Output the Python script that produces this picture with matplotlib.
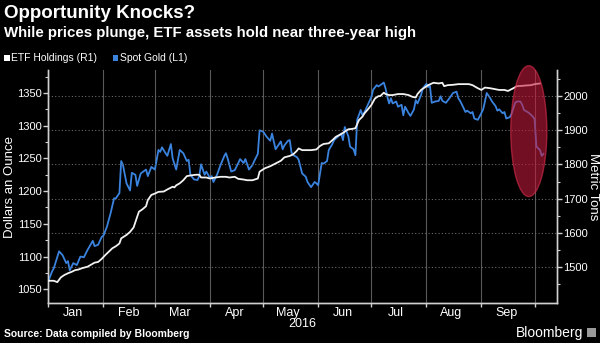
import matplotlib
matplotlib.use('Agg')
import matplotlib.pyplot as plt
import numpy as np
import pandas as pd
from matplotlib.patches import Ellipse, Rectangle

plt.rcParams['font.family'] = ['Liberation Sans', 'DejaVu Sans']

start = pd.Timestamp('2016-01-01')

# spot gold, days since Jan 1 2016 / dollars an ounce (left axis)
gold_day = [0, 2, 3, 6, 8, 10, 11, 12, 14, 16,
            18, 20, 22, 25, 26, 28, 30, 31, 33, 35,
            37, 38, 40, 41, 42, 44, 46, 47, 49, 50,
            52, 55, 56, 58, 60, 62, 63, 64, 66, 67,
            69, 70, 72, 74, 76, 78, 79, 80, 82, 84,
            85, 86, 88, 89, 91, 92, 93, 95, 97, 99,
            100, 101, 103, 105, 107, 108, 110, 111, 113, 115,
            116, 118, 119, 121, 123, 125, 126, 128, 129, 131,
            132, 133, 135, 136, 137, 138, 140, 141, 143, 145,
            146, 148, 150, 151, 152, 154, 155, 157, 158, 160,
            161, 163, 165, 166, 167, 169, 170, 172, 173, 174,
            176, 177, 178, 180, 182, 183, 185, 186, 188, 189,
            190, 191, 192, 193, 194, 196, 197, 199, 200, 201,
            203, 204, 206, 207, 208, 210, 211, 213, 214, 215,
            216, 218, 220, 221, 222, 224, 226, 228, 230, 231,
            232, 234, 235, 236, 238, 239, 240, 242, 243, 245,
            246, 247, 249, 250, 252, 253, 254, 256, 257, 258,
            260, 261, 263, 264, 266, 267, 268, 270, 271, 273,
            274, 275, 277, 278, 279]
gold_usd = [1063, 1077, 1082, 1108, 1102, 1090, 1093, 1079, 1090, 1087,
            1100, 1099, 1110, 1124, 1116, 1118, 1130, 1132, 1146, 1166,
            1189, 1189, 1197, 1246, 1240, 1212, 1201, 1228, 1225, 1208,
            1227, 1233, 1223, 1237, 1233, 1263, 1260, 1267, 1258, 1254,
            1272, 1250, 1233, 1263, 1258, 1246, 1248, 1225, 1218, 1217,
            1223, 1241, 1225, 1230, 1220, 1223, 1214, 1225, 1240, 1253,
            1258, 1250, 1230, 1232, 1243, 1249, 1243, 1249, 1233, 1240,
            1246, 1257, 1293, 1291, 1283, 1277, 1288, 1264, 1268, 1276,
            1264, 1270, 1277, 1278, 1259, 1255, 1252, 1248, 1227, 1222,
            1214, 1206, 1214, 1212, 1209, 1243, 1242, 1246, 1263, 1272,
            1278, 1283, 1288, 1278, 1298, 1284, 1268, 1264, 1255, 1309,
            1324, 1316, 1320, 1332, 1344, 1355, 1362, 1360, 1364, 1366,
            1357, 1344, 1334, 1342, 1334, 1337, 1329, 1332, 1316, 1329,
            1319, 1315, 1325, 1339, 1334, 1347, 1357, 1364, 1359, 1361,
            1335, 1337, 1338, 1345, 1338, 1335, 1342, 1350, 1352, 1342,
            1338, 1327, 1321, 1323, 1319, 1321, 1311, 1309, 1314, 1325,
            1337, 1350, 1342, 1337, 1330, 1323, 1325, 1319, 1321, 1311,
            1313, 1318, 1335, 1337, 1337, 1332, 1324, 1321, 1319, 1314,
            1310, 1268, 1263, 1254, 1257]

# ETF holdings, days since Jan 1 2016 / metric tons (right axis)
etf_day = [0, 3, 5, 7, 9, 11, 13, 15, 17, 19,
           22, 24, 26, 28, 30, 32, 34, 36, 38, 40,
           41, 44, 46, 48, 50, 51, 53, 55, 56, 58,
           60, 62, 65, 67, 70, 71, 72, 74, 76, 78,
           80, 83, 85, 86, 89, 91, 94, 97, 100, 102,
           105, 107, 110, 112, 115, 118, 119, 122, 125, 128,
           131, 133, 136, 138, 140, 141, 143, 146, 148, 151,
           153, 155, 158, 160, 162, 165, 167, 169, 171, 173,
           175, 177, 178, 180, 182, 184, 186, 187, 189, 190,
           192, 194, 197, 200, 203, 205, 207, 208, 210, 212,
           214, 217, 220, 222, 223, 225, 228, 231, 234, 237,
           239, 242, 244, 246, 249, 252, 254, 257, 259, 262,
           264, 267, 269, 272, 274, 277]
etf_tons = [1460, 1460, 1456, 1470, 1477, 1482, 1486, 1491, 1493, 1497,
            1501, 1507, 1513, 1515, 1524, 1535, 1545, 1555, 1561, 1569,
            1584, 1594, 1603, 1616, 1647, 1662, 1669, 1678, 1696, 1711,
            1715, 1720, 1721, 1727, 1735, 1733, 1739, 1745, 1754, 1766,
            1768, 1770, 1770, 1762, 1762, 1759, 1762, 1764, 1764, 1762,
            1764, 1758, 1756, 1754, 1754, 1759, 1779, 1789, 1795, 1803,
            1811, 1821, 1825, 1830, 1840, 1847, 1842, 1842, 1842, 1844,
            1854, 1860, 1862, 1871, 1881, 1889, 1896, 1903, 1904, 1906,
            1930, 1940, 1949, 1961, 1974, 1993, 2000, 2000, 2010, 2006,
            2003, 2003, 2006, 2006, 2003, 1998, 1996, 2006, 2018, 2025,
            2032, 2039, 2037, 2039, 2029, 2032, 2033, 2035, 2035, 2035,
            2032, 2023, 2018, 2025, 2023, 2020, 2018, 2018, 2015, 2023,
            2029, 2030, 2031, 2032, 2035, 2037]

month_names = ['Jan', 'Feb', 'Mar', 'Apr', 'May', 'Jun', 'Jul', 'Aug', 'Sep']
usd_ticks = [1050, 1100, 1150, 1200, 1250, 1300, 1350]
ton_ticks = [1500, 1600, 1700, 1800, 1900, 2000]

gold_dates = start + pd.to_timedelta(gold_day, unit='D')
etf_dates = start + pd.to_timedelta(etf_day, unit='D')
month_starts = pd.date_range('2016-01-01', '2016-10-01', freq='MS')
month_mids = month_starts[:-1] + pd.Timedelta(days=14)

fg = '#d0d0d0'
blue = '#3a84e0'

fig = plt.figure(figsize=(6, 3.43), dpi=100, facecolor='black')
ax = fig.add_axes([0.08, 0.1166, 0.848, 0.679])
ax.set_facecolor('black')
ax2 = ax.twinx()

ax.plot(gold_dates, gold_usd, color=blue, lw=1.3, zorder=3)
ax2.plot(etf_dates, etf_tons, color='#f2f2f2', lw=1.3, zorder=3)

ax.set_xlim(start - pd.Timedelta(hours=6), pd.Timestamp('2016-10-13 12:00'))
ax.set_ylim(1029, 1385)
ax2.set_ylim(1395, 2076)

ax.set_yticks(usd_ticks)
ax.set_yticks(np.arange(1075, 1385, 50), minor=True)
ax2.set_yticks(ton_ticks)
ax2.set_yticks(np.arange(1450, 2076, 100), minor=True)

ax.set_xticks(month_starts)
ax.set_xticklabels([])
ax.set_xticks(month_mids, minor=True)
ax.set_xticklabels(month_names, minor=True)

for a in (ax, ax2):
    a.spines['top'].set_visible(False)
    for s in ('left', 'right', 'bottom'):
        a.spines[s].set_color(fg)
        a.spines[s].set_linewidth(1.0)
    a.tick_params(axis='y', which='major', colors=fg, labelcolor='white',
                  labelsize=8, length=3.5, width=1, pad=1)
    a.tick_params(axis='y', which='minor', colors=fg, length=2, width=0.8)

ax.tick_params(axis='x', which='major', colors=fg, length=3, width=1)
ax.tick_params(axis='x', which='minor', length=0, labelcolor='white',
               labelsize=9, pad=3)

ax.grid(axis='x', which='major', color='#5a5a5a', lw=0.8)
ax2.grid(axis='y', which='major', color='#6a6a6a', lw=0.8, ls=(0, (1, 2)))

ax.set_ylabel('Dollars an Ounce', color='white', fontsize=9.5, va='center')
ax.yaxis.set_label_coords(-0.074, 0.5)
ax2.set_ylabel('Metric Tons', color='white', fontsize=9.5, rotation=270,
               va='center')
ax2.yaxis.set_label_coords(1.071, 0.5)

ax.text(0.5, -0.09, '2016', transform=ax.transAxes, ha='center', va='center',
        color='white', fontsize=9)

# highlight of the October drop
ell = Ellipse((0.945, 0.738), 0.071, 0.562, transform=ax2.transAxes,
              facecolor='#c81a3c', edgecolor='#e0304f', lw=1.0, alpha=0.58,
              zorder=5, clip_on=False)
ax2.add_patch(ell)

fig.text(0.007, 0.962, 'Opportunity Knocks?', color='white', fontsize=13.5,
         fontweight='bold', va='center', ha='left')
fig.text(0.007, 0.905, 'While prices plunge, ETF assets hold near three-year high',
         color='white', fontsize=10.8, fontweight='bold', va='center', ha='left')

fig.patches.append(Rectangle((0.007, 0.822), 0.009, 0.017, transform=fig.transFigure,
                             facecolor='white', edgecolor='none'))
fig.text(0.019, 0.831, 'ETF Holdings (R1)', color='white', fontsize=7.5, va='center')
fig.patches.append(Rectangle((0.188, 0.822), 0.009, 0.017, transform=fig.transFigure,
                             facecolor=blue, edgecolor='none'))
fig.text(0.2, 0.831, 'Spot Gold (L1)', color='white', fontsize=7.5, va='center')

fig.text(0.007, 0.027, 'Source: Data compiled by Bloomberg', color='white',
         fontsize=7.5, fontweight='bold', va='center', ha='left')
fig.text(0.972, 0.03, 'Bloomberg', color='white', fontsize=10, va='center', ha='right')
fig.patches.append(Rectangle((0.978, 0.017), 0.016, 0.028, transform=fig.transFigure,
                             facecolor='#9a9a9a', edgecolor='none'))

fig.savefig('out.png', dpi=100, facecolor='black')
